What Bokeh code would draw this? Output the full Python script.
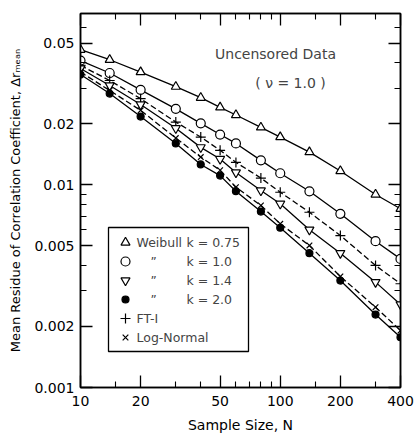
import math
from bokeh.plotting import figure
from bokeh.models import FixedTicker, LogAxis, Label, BoxAnnotation, CustomJSTickFormatter
from bokeh.embed import file_html
from bokeh.resources import INLINE

# ---- data ----
sample_size = [10, 14, 20, 30, 40, 50, 60, 80, 100, 140, 200, 300, 400]
weibull_k075 = [0.0464, 0.0414, 0.0360, 0.0305, 0.0269, 0.0241, 0.0221, 0.0192, 0.0172, 0.0145, 0.0117, 0.00896, 0.00762]
weibull_k10 = [0.0410, 0.0356, 0.0294, 0.0237, 0.0201, 0.0177, 0.0160, 0.0132, 0.0114, 0.00929, 0.00719, 0.00527, 0.00431]
weibull_k14 = [0.0375, 0.0309, 0.0249, 0.0190, 0.0153, 0.0134, 0.0115, 0.00937, 0.00806, 0.00600, 0.00460, 0.00331, 0.00257]
weibull_k20 = [0.0350, 0.0282, 0.0217, 0.0160, 0.0126, 0.0111, 0.00930, 0.00738, 0.00614, 0.00460, 0.00337, 0.00229, 0.00177]
ft_i = [0.0388, 0.0327, 0.0266, 0.0204, 0.0172, 0.0148, 0.0129, 0.0108, 0.00919, 0.00732, 0.00562, 0.00400, 0.00325]
log_normal = [0.0360, 0.0292, 0.0233, 0.0170, 0.0137, 0.0118, 0.00973, 0.00791, 0.00642, 0.00502, 0.00353, 0.00249, 0.00191]

x_major = [10, 20, 50, 100, 200, 400]
x_minor = [15, 30, 40, 60, 70, 80, 90, 150, 300]
y_major = [0.001, 0.002, 0.005, 0.01, 0.02, 0.05]
y_minor = [0.003, 0.004, 0.006, 0.007, 0.008, 0.009, 0.03, 0.04, 0.06]

X_RANGE = (10, 400)
Y_RANGE = (0.001, 0.07)

FONT = "DejaVu Sans"

W, H = 419, 439
FL, FR, FT, FB = 80, 19, 13, 52
FW, FH = W - FL - FR, H - FT - FB

def dx(px):
    lo, hi = math.log10(X_RANGE[0]), math.log10(X_RANGE[1])
    return 10 ** (lo + (px - FL) / FW * (hi - lo))

def dy(py):
    lo, hi = math.log10(Y_RANGE[0]), math.log10(Y_RANGE[1])
    return 10 ** (lo + (FT + FH - py) / FH * (hi - lo))

p = figure(width=W, height=H, x_axis_type="log", y_axis_type="log",
           x_range=X_RANGE, y_range=Y_RANGE, output_backend="svg",
           toolbar_location=None, min_border_left=FL, min_border_right=FR,
           min_border_top=FT, min_border_bottom=FB)
p.grid.visible = False
p.outline_line_color = "black"
p.outline_line_width = 1.5
p.background_fill_color = "white"
p.border_fill_color = "white"

fmt = CustomJSTickFormatter(code="return tick.toString();")
blank = CustomJSTickFormatter(code="return '';")

def style_axis(ax, ticks, minor, labels=True):
    ax.ticker = FixedTicker(ticks=ticks, minor_ticks=minor)
    ax.major_tick_in = 12
    ax.major_tick_out = 0
    ax.minor_tick_in = 6
    ax.minor_tick_out = 0
    ax.axis_line_color = "black"
    ax.axis_line_width = 1.5
    ax.major_tick_line_width = 1.3
    ax.minor_tick_line_width = 1.1
    ax.major_tick_line_color = "black"
    ax.minor_tick_line_color = "black"
    ax.major_label_text_font = FONT
    ax.major_label_text_font_size = "14px"
    ax.major_label_text_color = "black"
    ax.formatter = fmt if labels else blank
    if not labels:
        ax.major_label_standoff = 0

xa = p.xaxis[0]
ya = p.yaxis[0]
style_axis(xa, x_major, x_minor)
style_axis(ya, y_major, y_minor)
xa.major_label_standoff = 8
ya.major_label_standoff = 6
xa.axis_label = "Sample Size, N"
ya.axis_label = "Mean Residue of Correlation Coefficient, \u0394r\u2098\u2091\u2090\u2099"
for ax, sz in ((xa, "14px"), (ya, "13px")):
    ax.axis_label_text_font = FONT
    ax.axis_label_text_font_size = sz
    ax.axis_label_text_font_style = "normal"
    ax.axis_label_text_color = "black"
xa.axis_label_standoff = 8
ya.axis_label_standoff = 8

top = LogAxis()
style_axis(top, x_major, x_minor, labels=False)
p.add_layout(top, "above")
right = LogAxis()
style_axis(right, y_major, y_minor, labels=False)
p.add_layout(right, "right")

# ---- legend frame (under the glyphs) ----
p.add_layout(BoxAnnotation(left=dx(108), right=dx(248), top=dy(227), bottom=dy(351),
                           fill_color="white", fill_alpha=1.0, line_color="black",
                           line_alpha=1.0, line_width=1.3, level="underlay"))

# ---- series ----
series = [
    (weibull_k075, "triangle", "white", "solid", 9),
    (weibull_k10, "circle", "white", "solid", 9),
    (ft_i, "cross", "black", "dashed", 10),
    (weibull_k14, "inverted_triangle", "white", "solid", 9),
    (log_normal, "x", "black", "dashed", 8),
    (weibull_k20, "circle", "black", "solid", 7),
]
for vals, marker, fill, dash, size in series:
    p.line(sample_size, vals, line_color="black", line_width=1.3,
           line_dash=("6 3" if dash == "dashed" else "solid"))
for vals, marker, fill, dash, size in series:
    p.scatter(sample_size, vals, marker=marker, size=size, fill_color=fill,
              line_color="black", line_width=1.2)

# ---- annotations ----
p.add_layout(Label(x=dx(275), y=dy(53), text="Uncensored Data", text_font=FONT,
                   text_font_size="14px", text_align="center", text_baseline="middle"))
p.add_layout(Label(x=dx(290), y=dy(82), text="( \u03bd = 1.0 )", text_font=FONT,
                   text_font_size="14px", text_align="center", text_baseline="middle"))

# ---- legend entries ----
rows = [
    ("triangle", "white", 9, "Weibull", "k = 0.75"),
    ("circle", "white", 9, "\u201d", "k = 1.0"),
    ("inverted_triangle", "white", 9, "\u201d", "k = 1.4"),
    ("circle", "black", 7, "\u201d", "k = 2.0"),
    ("cross", "black", 10, "FT-I", ""),
    ("x", "black", 8, "Log-Normal", ""),
]
for i, (marker, fill, size, name, kval) in enumerate(rows):
    ypix = 242 + i * 19
    p.scatter([dx(125)], [dy(ypix)], marker=marker, size=size, fill_color=fill,
              line_color="black", line_width=1.2)
    if name == "\u201d":
        p.add_layout(Label(x=dx(153), y=dy(ypix), text=name, text_font=FONT,
                           text_font_size="12px", text_align="center", text_baseline="middle"))
    else:
        p.add_layout(Label(x=dx(136), y=dy(ypix), text=name, text_font=FONT,
                           text_font_size="12.5px", text_baseline="middle"))
    if kval:
        p.add_layout(Label(x=dx(186), y=dy(ypix), text=kval, text_font=FONT,
                           text_font_size="12.5px", text_baseline="middle"))

open("out.html", "w").write(file_html(p, INLINE))
